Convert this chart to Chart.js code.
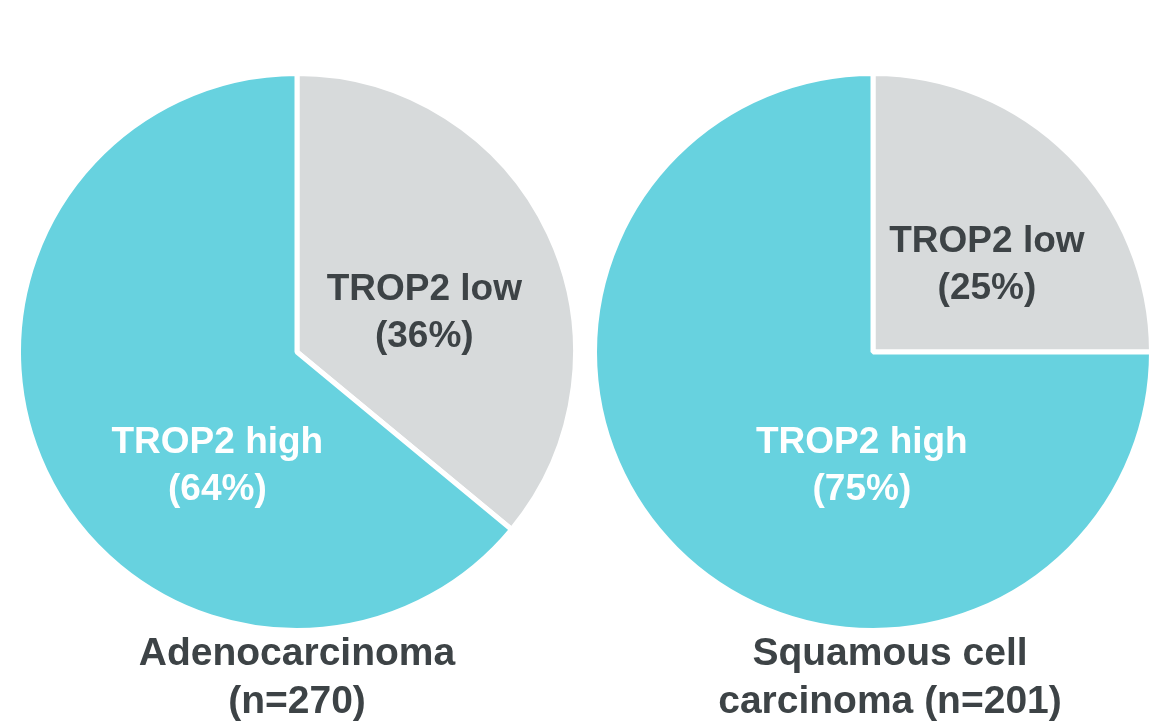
<!DOCTYPE html>
<html>
<head>
<meta charset="utf-8">
<script src="https://cdn.jsdelivr.net/npm/chart.js@4.4.1/dist/chart.umd.min.js"></script>
<style>
  html, body { margin: 0; padding: 0; background: #ffffff; }
  body { width: 1156px; height: 721px; position: relative; overflow: hidden;
         font-family: "Liberation Sans", Arial, sans-serif; }
  canvas.pie { position: absolute; }
  .title { position: absolute; width: 500px; text-align: center; color: #3d4346;
           font-weight: bold; font-size: 39px; line-height: 48px; }
</style>
</head>
<body>
<canvas id="adeno" class="pie" width="562" height="562" style="left:16px;top:71px"></canvas>
<canvas id="squam" class="pie" width="562" height="562" style="left:592px;top:71px"></canvas>
<div class="title" style="left:47px;top:628px">Adenocarcinoma<br>(n=270)</div>
<div class="title" style="left:640px;top:628px">Squamous cell<br>carcinoma (n=201)</div>
<script>
// TROP2 expression split by histology
const sliceLabels = ["TROP2 low", "TROP2 high"];
const adenoValues = [36, 64];
const squamValues = [25, 75];

const sliceColors = ["#d7dadb", "#67d2df"];
const labelColors = ["#3d4346", "#ffffff"];

// label block centres, as fractions of the pie radius from its centre
const adenoLabelPos = [[0.457, -0.141], [-0.286, 0.41]];
const squamLabelPos = [[0.409, -0.312], [-0.04, 0.41]];

const sliceLabelPlugin = {
  id: "sliceLabels",
  afterDatasetsDraw(chart, args, opts) {
    const ctx = chart.ctx;
    const meta = chart.getDatasetMeta(0);
    const values = chart.data.datasets[0].data;
    ctx.save();
    ctx.font = "bold 37px 'Liberation Sans', Arial, sans-serif";
    ctx.textAlign = "center";
    ctx.textBaseline = "middle";
    meta.data.forEach((arc, i) => {
      const r = arc.outerRadius;
      const [fx, fy] = opts.positions[i];
      const cx = arc.x + fx * r;
      const cy = arc.y + fy * r;
      ctx.fillStyle = labelColors[i];
      ctx.fillText(chart.data.labels[i], cx, cy - 23);
      ctx.fillText("(" + values[i] + "%)", cx, cy + 24);
    });
    ctx.restore();
  }
};

function makePie(id, values, positions) {
  return new Chart(document.getElementById(id), {
    type: "pie",
    data: {
      labels: sliceLabels,
      datasets: [{
        data: values,
        backgroundColor: sliceColors,
        borderColor: "#ffffff",
        borderWidth: 5
      }]
    },
    options: {
      responsive: false,
      animation: false,
      devicePixelRatio: 1,
      rotation: 0,
      layout: { padding: 0 },
      plugins: {
        legend: { display: false },
        tooltip: { enabled: false },
        sliceLabels: { positions: positions }
      }
    },
    plugins: [sliceLabelPlugin]
  });
}

makePie("adeno", adenoValues, adenoLabelPos);
makePie("squam", squamValues, squamLabelPos);
</script>
</body>
</html>
